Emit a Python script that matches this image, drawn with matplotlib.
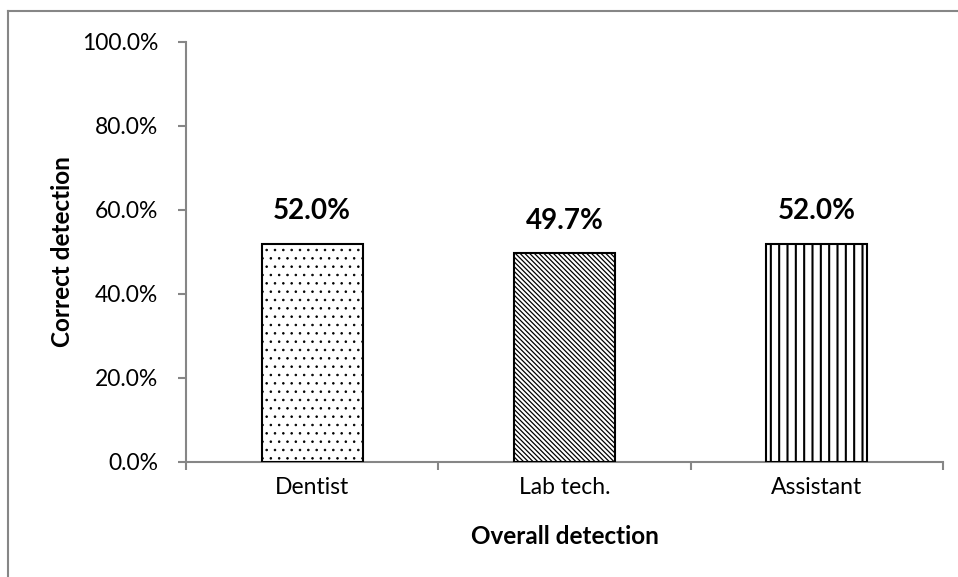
import numpy as np
import matplotlib.pyplot as plt
from matplotlib.lines import Line2D
from matplotlib.ticker import PercentFormatter

plt.rcParams['font.family'] = ['Lato', 'DejaVu Sans']
plt.rcParams['hatch.linewidth'] = 1.3

categories = ['Dentist', 'Lab tech.', 'Assistant']
detection = [52.0, 49.7, 52.0]   # correct detection [%]
hatches = ['..', '\\' * 7, '||']
hatch_lw = [0.6, 0.9, 1.5]

axis_grey = '#868686'

fig = plt.figure(figsize=(9.58, 5.77), dpi=100)
ax = fig.add_axes([186 / 958, 1 - 462 / 577, (943 - 186) / 958, 420 / 577])

x = np.arange(len(categories))
bars = ax.bar(x, detection, width=0.4, color='white', edgecolor='black',
              linewidth=1.5, zorder=3)
for b, h, lw in zip(bars, hatches, hatch_lw):
    b.set_hatch(h)
    if hasattr(b, 'set_hatch_linewidth'):
        b.set_hatch_linewidth(lw)

# value labels above the bars
for xi, v in zip(x, detection):
    ax.annotate(f'{v:.1f}%', (xi, v), xytext=(0, 14), textcoords='offset points',
                ha='center', va='bottom', fontsize=20, fontweight='bold')

ax.set_xlim(-0.5, len(categories) - 0.5)
ax.set_ylim(0, 100)
ax.set_yticks(np.arange(0, 101, 20))
ax.yaxis.set_major_formatter(PercentFormatter(decimals=1))
ax.set_xticks(x)
ax.set_xticklabels(categories)
ax.set_xticks(np.arange(-0.5, len(categories)), minor=True)

for s in ['top', 'right']:
    ax.spines[s].set_visible(False)
for s in ['left', 'bottom']:
    ax.spines[s].set_color(axis_grey)
    ax.spines[s].set_linewidth(1.5)

ax.tick_params(axis='y', length=6, width=1.5, color=axis_grey, labelsize=16.5, pad=14)
ax.tick_params(axis='x', which='major', length=0, labelsize=16.5, pad=11)
ax.tick_params(axis='x', which='minor', length=6, width=1.5, color=axis_grey)

ax.set_xlabel('Overall detection', fontsize=17.5, fontweight='bold', labelpad=19)
ax.set_ylabel('Correct detection', fontsize=17.5, fontweight='bold', labelpad=6)

# outer chart frame
fig.add_artist(Line2D([8 / 958, 1], [1 - 11 / 577] * 2, color=axis_grey, lw=1.5))
fig.add_artist(Line2D([8 / 958] * 2, [0, 1 - 11 / 577], color=axis_grey, lw=1.5))

fig.savefig('out.png', dpi=100)
